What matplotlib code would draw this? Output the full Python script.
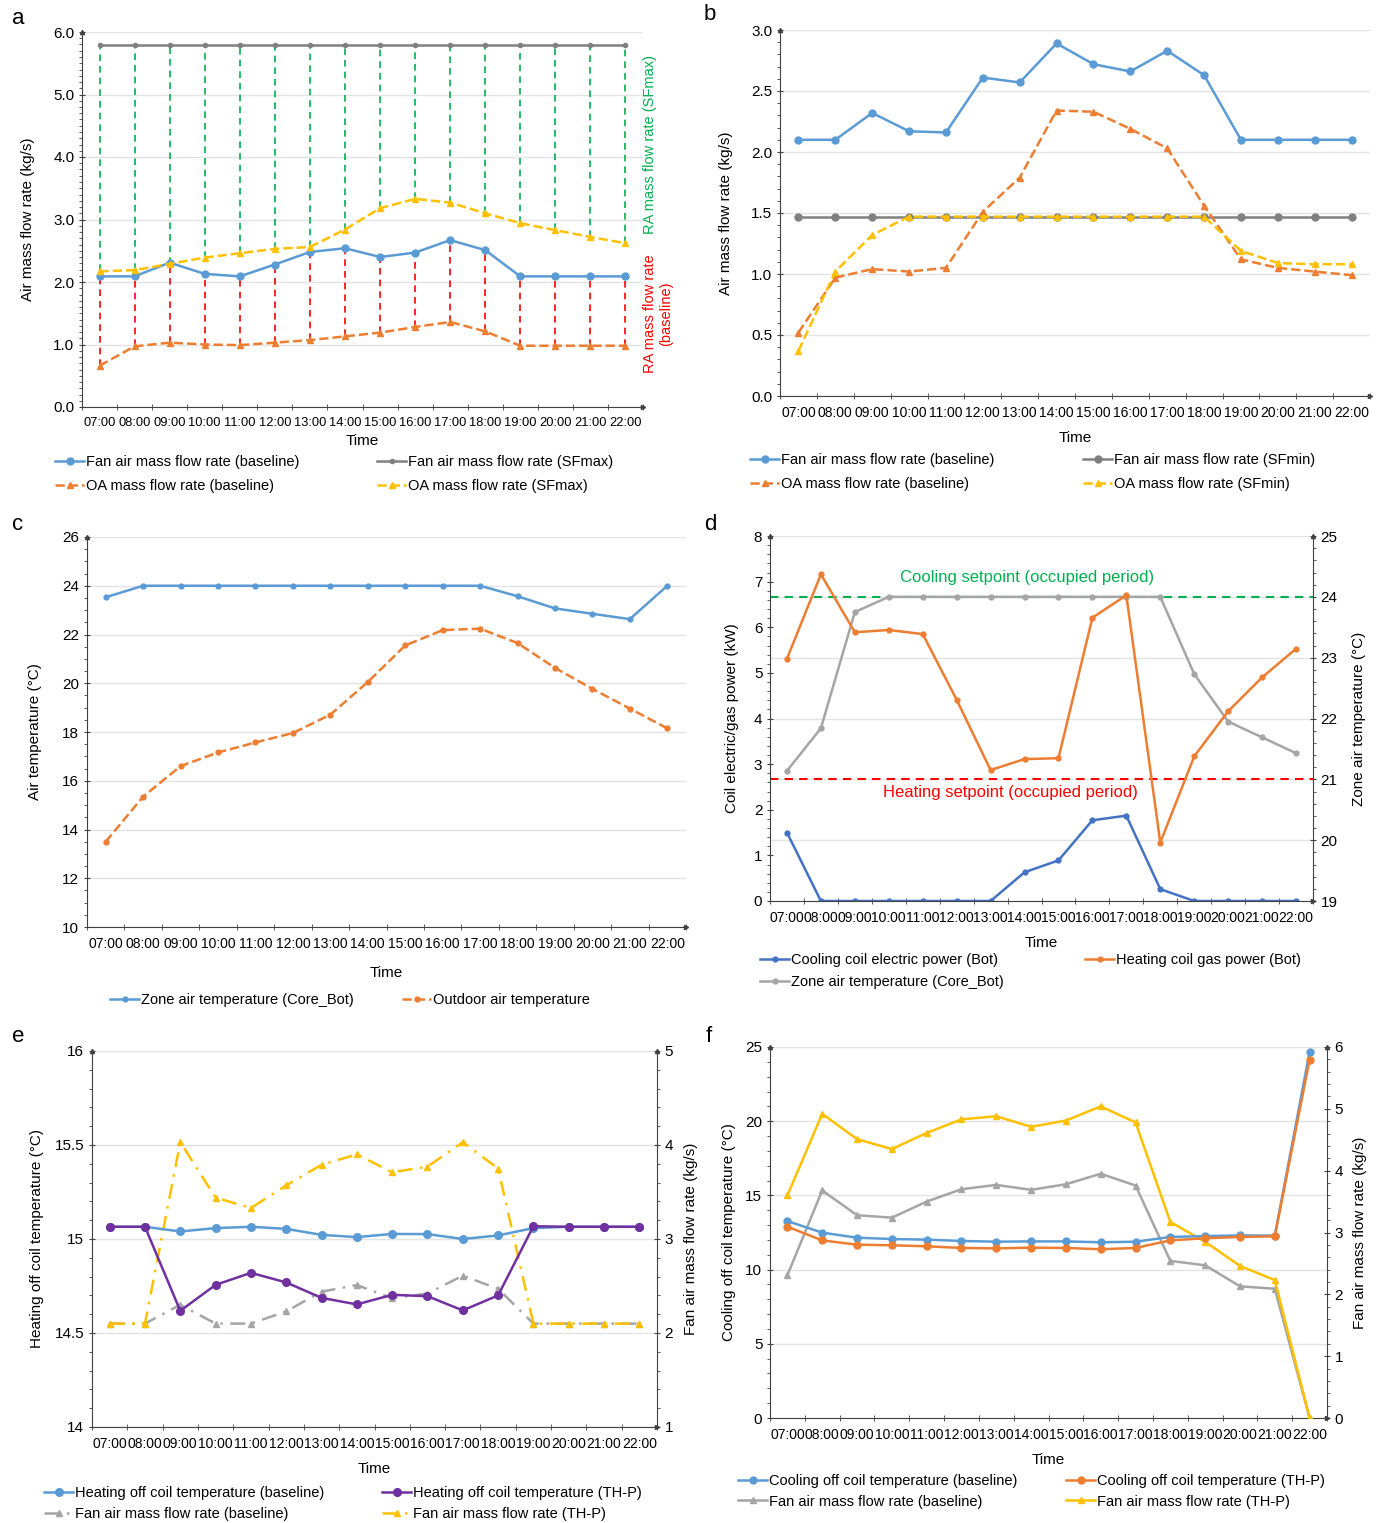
import numpy as np
import matplotlib
matplotlib.use("Agg")
import matplotlib.pyplot as plt
from matplotlib.ticker import MultipleLocator, FormatStrFormatter

plt.rcParams['font.family'] = ['Liberation Sans', 'DejaVu Sans']
plt.rcParams['font.size'] = 10

times = ['07:00', '08:00', '09:00', '10:00', '11:00', '12:00', '13:00', '14:00',
         '15:00', '16:00', '17:00', '18:00', '19:00', '20:00', '21:00', '22:00']

# panel a
a_fan_base = [2.09, 2.09, 2.31, 2.13, 2.09, 2.28, 2.48, 2.54, 2.40, 2.47, 2.67, 2.51, 2.09, 2.09, 2.09, 2.09]
a_fan_sfmax = [5.79] * 16
a_oa_base = [0.66, 0.97, 1.03, 1.00, 0.99, 1.03, 1.07, 1.13, 1.19, 1.28, 1.36, 1.21, 0.98, 0.98, 0.98, 0.98]
a_oa_sfmax = [2.17, 2.19, 2.29, 2.39, 2.46, 2.53, 2.56, 2.84, 3.18, 3.33, 3.27, 3.10, 2.94, 2.83, 2.72, 2.62]

# panel b
b_fan_base = [2.10, 2.10, 2.32, 2.17, 2.16, 2.61, 2.57, 2.89, 2.72, 2.66, 2.83, 2.63, 2.10, 2.10, 2.10, 2.10]
b_fan_sfmin = [1.47] * 16
b_oa_base = [0.52, 0.97, 1.04, 1.02, 1.05, 1.51, 1.79, 2.34, 2.33, 2.19, 2.03, 1.56, 1.12, 1.05, 1.02, 0.99]
b_oa_sfmin = [0.37, 1.02, 1.32, 1.47, 1.47, 1.47, 1.47, 1.47, 1.47, 1.47, 1.47, 1.47, 1.19, 1.09, 1.08, 1.08]

# panel c
c_zone = [23.53, 24.0, 24.0, 24.0, 24.0, 24.0, 24.0, 24.0, 24.0, 24.0, 24.0, 23.57, 23.07, 22.85, 22.63, 24.0]
c_outdoor = [13.5, 15.35, 16.6, 17.16, 17.57, 17.96, 18.71, 20.05, 21.55, 22.18, 22.24, 21.65, 20.63, 19.77, 18.96, 18.15]

# panel d
d_cooling = [1.50, 0, 0, 0, 0, 0, 0, 0.63, 0.89, 1.77, 1.87, 0.26, 0, 0, 0, 0]
d_heating = [5.31, 7.16, 5.89, 5.94, 5.85, 4.41, 2.87, 3.11, 3.13, 6.21, 6.70, 1.28, 3.17, 4.16, 4.90, 5.53]
d_zone = [21.14, 21.84, 23.75, 24.0, 24.0, 24.0, 24.0, 24.0, 24.0, 24.0, 24.0, 24.0, 22.73, 21.95, 21.69, 21.43]
d_cool_sp = 24
d_heat_sp = 21

# panel e
e_heat_base = [15.065, 15.065, 15.04, 15.058, 15.065, 15.054, 15.022, 15.01, 15.027, 15.026, 15.0, 15.019, 15.058, 15.065, 15.065, 15.065]
e_heat_thp = [15.065, 15.065, 14.618, 14.756, 14.82, 14.769, 14.687, 14.652, 14.703, 14.696, 14.62, 14.70, 15.068, 15.065, 15.065, 15.065]
e_fan_base = [2.1, 2.1, 2.3, 2.1, 2.1, 2.23, 2.44, 2.51, 2.37, 2.42, 2.61, 2.47, 2.1, 2.1, 2.1, 2.1]
e_fan_thp = [2.1, 2.1, 4.03, 3.44, 3.33, 3.57, 3.79, 3.90, 3.71, 3.77, 4.03, 3.75, 2.1, 2.1, 2.1, 2.1]

# panel f
f_cool_base = [13.27, 12.49, 12.15, 12.06, 12.02, 11.93, 11.88, 11.90, 11.90, 11.84, 11.88, 12.20, 12.26, 12.30, 12.29, 24.66]
f_cool_thp = [12.89, 11.97, 11.68, 11.64, 11.57, 11.46, 11.43, 11.48, 11.46, 11.37, 11.46, 11.97, 12.11, 12.20, 12.24, 24.15]
f_fan_base = [2.31, 3.68, 3.28, 3.24, 3.50, 3.70, 3.77, 3.69, 3.78, 3.95, 3.76, 2.54, 2.47, 2.13, 2.09, 0]
f_fan_thp = [3.60, 4.92, 4.51, 4.35, 4.61, 4.83, 4.88, 4.71, 4.81, 5.04, 4.78, 3.17, 2.85, 2.46, 2.23, 0]

BLUE = "#5B9BD5"
ORANGE = "#ED7D31"
GREY = "#808080"
LGREY = "#A5A5A5"
YELLOW = "#FFC000"
DBLUE = "#4472C4"
PURPLE = "#7030A0"
GREEN = "#00B050"
RED = "#FF0000"
AXC = "#404040"

W, H = 1383, 1523
fig = plt.figure(figsize=(W / 100, H / 100), dpi=100)
x = np.arange(len(times))


def make_ax(left, right, top, bottom):
    return fig.add_axes([left / W, 1 - bottom / H, (right - left) / W, (bottom - top) / H])


def style(ax, ylim, major, minor, fmt="%g", grid=True, xsize=10, tpad=8):
    ax.set_xlim(-0.5, 15.5)
    ax.set_ylim(*ylim)
    ax.yaxis.set_major_locator(MultipleLocator(major))
    ax.yaxis.set_minor_locator(MultipleLocator(minor))
    ax.yaxis.set_major_formatter(FormatStrFormatter(fmt))
    ax.set_xticks(x)
    ax.set_xticklabels(times)
    ax.set_xticks(np.arange(-0.5, 16, 1), minor=True)
    ax.tick_params(axis='x', which='major', length=0, pad=7, labelsize=xsize)
    ax.tick_params(axis='x', which='minor', length=4, direction='inout', color=AXC)
    ax.tick_params(axis='y', which='major', length=4, direction='inout', color=AXC, labelsize=11)
    ax.tick_params(axis='y', which='minor', length=2, direction='out', color=AXC)
    for s in ['top', 'right']:
        ax.spines[s].set_visible(False)
    for s in ['left', 'bottom']:
        ax.spines[s].set_color(AXC)
    if grid:
        ax.grid(axis='y', which='major', color="#E3E3E3", linewidth=1)
        ax.set_axisbelow(True)
    ax.plot(0, 1, '^', color=AXC, ms=3, transform=ax.transAxes, clip_on=False)
    ax.plot(1, 0, '>', color=AXC, ms=3, transform=ax.transAxes, clip_on=False)
    ax.set_xlabel("Time", fontsize=11, labelpad=tpad)


def style_right(ax2, ylim, major, minor):
    ax2.set_ylim(*ylim)
    ax2.yaxis.set_major_locator(MultipleLocator(major))
    ax2.yaxis.set_minor_locator(MultipleLocator(minor))
    ax2.yaxis.set_major_formatter(FormatStrFormatter("%g"))
    ax2.tick_params(axis='y', which='major', length=4, direction='inout', color=AXC, labelsize=11)
    ax2.tick_params(axis='y', which='minor', length=2, direction='out', color=AXC)
    for s in ['top', 'left', 'bottom']:
        ax2.spines[s].set_visible(False)
    ax2.spines['right'].set_color(AXC)
    ax2.plot(1, 1, '^', color=AXC, ms=3, transform=ax2.transAxes, clip_on=False)


def legend_cols(ax, handles_cols, xs, y, spacing=0.7):
    for i, (hs, xx) in enumerate(zip(handles_cols, xs)):
        leg = ax.legend(handles=hs, loc='upper left', bbox_to_anchor=(xx / W, 1 - y / H),
                        bbox_transform=fig.transFigure, frameon=False, fontsize=10.5,
                        handlelength=2.0, handletextpad=0.1, labelspacing=spacing,
                        borderaxespad=0, borderpad=0)
        if i < len(handles_cols) - 1:
            ax.add_artist(leg)


def panel_label(xp, yp, s):
    fig.text(xp / W, 1 - yp / H, s, fontsize=16, ha='left', va='center')


# ---------- a ----------
ax = make_ax(82, 643, 32, 407)
style(ax, (0, 6), 1.0, 0.1, fmt="%.1f", xsize=9.3, tpad=4)
ax.vlines(x, a_oa_sfmax, a_fan_sfmax, colors=GREEN, linestyles=(0, (4, 3)), linewidth=1.2)
ax.vlines(x, a_oa_base, a_fan_base, colors=RED, linestyles=(0, (4, 3)), linewidth=1.2)
h1, = ax.plot(x, a_fan_base, '-o', color=BLUE, lw=1.8, ms=5, label="Fan air mass flow rate (baseline)")
h2, = ax.plot(x, a_fan_sfmax, '-o', color=GREY, lw=1.8, ms=3, label="Fan air mass flow rate (SFmax)")
h3, = ax.plot(x, a_oa_base, '--^', color=ORANGE, lw=1.8, ms=5, label="OA mass flow rate (baseline)")
h4, = ax.plot(x, a_oa_sfmax, '--^', color=YELLOW, lw=1.8, ms=5, label="OA mass flow rate (SFmax)")
ax.set_ylabel("Air mass flow rate (kg/s)", fontsize=11, labelpad=13)
ax.text(1.0, 0.70, "RA mass flow rate (SFmax)", color=GREEN, rotation=90, fontsize=10.5,
        ha='left', va='center', transform=ax.transAxes)
ax.text(1.0, 0.25, "RA mass flow rate\n(baseline)", color=RED, rotation=90, fontsize=10.5,
        ha='left', va='center', multialignment='center', transform=ax.transAxes)
legend_cols(ax, [[h1, h3], [h2, h4]], [55, 377], 455)
panel_label(12, 18, "a")

# ---------- b ----------
ax = make_ax(780, 1370, 30, 396)
style(ax, (0, 3), 0.5, 0.1, fmt="%.1f")
h1, = ax.plot(x, b_fan_base, '-o', color=BLUE, lw=1.8, ms=5, label="Fan air mass flow rate (baseline)")
h2, = ax.plot(x, b_fan_sfmin, '-o', color=GREY, lw=1.8, ms=5, label="Fan air mass flow rate (SFmin)")
h3, = ax.plot(x, b_oa_base, '--^', color=ORANGE, lw=1.8, ms=5, label="OA mass flow rate (baseline)")
h4, = ax.plot(x, b_oa_sfmin, '--^', color=YELLOW, lw=1.8, ms=5, label="OA mass flow rate (SFmin)")
ax.set_ylabel("Air mass flow rate (kg/s)", fontsize=11, labelpad=13)
legend_cols(ax, [[h1, h3], [h2, h4]], [750, 1083], 453)
panel_label(704, 15, "b")

# ---------- c ----------
ax = make_ax(87, 686, 537, 927)
style(ax, (10, 26), 2, 0.5, tpad=11)
h1, = ax.plot(x, c_zone, '-o', color=BLUE, lw=1.8, ms=3.5, label="Zone air temperature (Core_Bot)")
h2, = ax.plot(x, c_outdoor, '--o', color=ORANGE, lw=1.8, ms=3.5, label="Outdoor air temperature")
ax.set_ylabel("Air temperature (°C)", fontsize=11, labelpad=15)
legend_cols(ax, [[h1], [h2]], [110, 402], 993)
panel_label(12, 524, "c")

# ---------- d ----------
ax = make_ax(770, 1313, 536, 901)
style(ax, (0, 8), 1, 0.2, grid=False)
ax2 = ax.twinx()
style_right(ax2, (19, 25), 1, 0.2)
ax2.grid(axis='y', which='major', color="#E3E3E3", linewidth=1)
ax2.set_zorder(ax.get_zorder() - 1)
ax.patch.set_visible(False)
ax2.axhline(d_cool_sp, color=GREEN, ls=(0, (4, 3)), lw=1.5)
ax2.axhline(d_heat_sp, color=RED, ls=(0, (4, 3)), lw=1.5)
h3, = ax2.plot(x, d_zone, '-o', color=LGREY, lw=1.8, ms=3.5, label="Zone air temperature (Core_Bot)")
h1, = ax.plot(x, d_cooling, '-o', color=DBLUE, lw=1.8, ms=3.5, label="Cooling coil electric power (Bot)")
h2, = ax.plot(x, d_heating, '-o', color=ORANGE, lw=1.8, ms=3.5, label="Heating coil gas power (Bot)")
ax.text(7.07, 7.08, "Cooling setpoint (occupied period)", color=GREEN, fontsize=12, ha='center', va='center')
ax.text(6.57, 2.37, "Heating setpoint (occupied period)", color=RED, fontsize=12, ha='center', va='center')
ax.set_ylabel("Coil electric/gas power (kW)", fontsize=11, labelpad=11)
ax2.set_ylabel("Zone air temperature (°C)", fontsize=11, labelpad=10)
legend_cols(ax, [[h1, h3], [h2]], [760, 1085], 953, spacing=0.55)
panel_label(704, 524, "d")

# ---------- e ----------
ax = make_ax(92, 657, 1051, 1427)
style(ax, (14, 16), 0.5, 0.1)
ax2 = ax.twinx()
style_right(ax2, (1, 5), 1, 0.2)
ax2.set_zorder(ax.get_zorder() + 1)
h3, = ax2.plot(x, e_fan_base, linestyle=(0, (6, 3, 1, 3)), marker='^', color=LGREY, lw=1.8, ms=5,
               label="Fan air mass flow rate (baseline)")
h4, = ax2.plot(x, e_fan_thp, linestyle=(0, (6, 3, 1, 3)), marker='^', color=YELLOW, lw=1.8, ms=5,
               label="Fan air mass flow rate (TH-P)")
h1, = ax2.plot([], [], '-o', color=BLUE, lw=1.8, ms=5.5, label="Heating off coil temperature (baseline)")
h2, = ax2.plot([], [], '-o', color=PURPLE, lw=1.8, ms=5.5, label="Heating off coil temperature (TH-P)")
# temperatures go on the left scale, drawn in the twin so they sit above the fan lines
y2 = lambda v: 1 + (np.array(v) - 14) * 2
ax2.plot(x, y2(e_heat_base), '-o', color=BLUE, lw=1.8, ms=5.5)
ax2.plot(x, y2(e_heat_thp), '-o', color=PURPLE, lw=1.8, ms=5.5)
ax.set_ylabel("Heating off coil temperature (°C)", fontsize=11, labelpad=8)
ax2.set_ylabel("Fan air mass flow rate (kg/s)", fontsize=11, labelpad=8)
legend_cols(ax, [[h1, h3], [h2, h4]], [44, 382], 1486, spacing=0.5)
panel_label(12, 1036, "e")

# ---------- f ----------
ax = make_ax(770, 1327, 1047, 1418)
style(ax, (0, 25), 5, 1)
ax2 = ax.twinx()
style_right(ax2, (0, 6), 1, 0.2)
h3, = ax2.plot(x, f_fan_base, '-^', color=LGREY, lw=1.8, ms=5, label="Fan air mass flow rate (baseline)")
h4, = ax2.plot(x, f_fan_thp, '-^', color=YELLOW, lw=1.8, ms=5, label="Fan air mass flow rate (TH-P)")
h1, = ax2.plot([], [], '-o', color=BLUE, lw=1.8, ms=5, label="Cooling off coil temperature (baseline)")
h2, = ax2.plot([], [], '-o', color=ORANGE, lw=1.8, ms=5, label="Cooling off coil temperature (TH-P)")
y2f = lambda v: np.array(v) * 6 / 25
ax2.plot(x, y2f(f_cool_base), '-o', color=BLUE, lw=1.8, ms=5)
ax2.plot(x, y2f(f_cool_thp), '-o', color=ORANGE, lw=1.8, ms=5)
ax.set_ylabel("Cooling off coil temperature (°C)", fontsize=11, labelpad=7)
ax2.set_ylabel("Fan air mass flow rate (kg/s)", fontsize=11, labelpad=7)
legend_cols(ax, [[h1, h3], [h2, h4]], [738, 1066], 1474, spacing=0.45)
panel_label(706, 1036, "f")

fig.savefig("out.png", dpi=100, facecolor="white")
